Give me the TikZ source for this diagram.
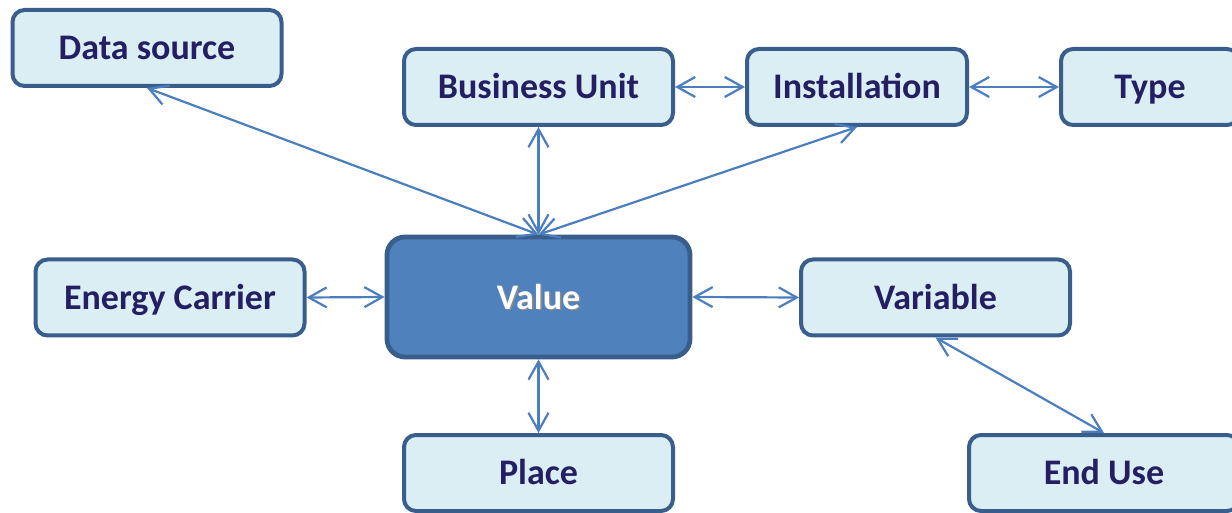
\documentclass[tikz,border=0pt]{standalone}
\usepackage{fontspec}
\setmainfont{Carlito}
\usepackage{xcolor}
\usetikzlibrary{arrows.meta}
\definecolor{boxfill}{HTML}{DBEEF4}
\definecolor{boxline}{HTML}{3A5E8C}
\definecolor{valfill}{HTML}{4F81BD}
\definecolor{arrowcol}{HTML}{4A7EBF}
\definecolor{labelcol}{HTML}{241F62}

\begin{document}
\begin{tikzpicture}[x=0.5pt, y=-0.5pt,
    entity/.style={draw=boxline, line width=2pt, fill=boxfill, rounded corners=6pt,
        minimum width=134.5pt, minimum height=38pt, inner sep=0pt,
        text height=14.6pt, text depth=3pt,
        text=labelcol, font=\fontsize{18}{20}\selectfont\bfseries},
    link/.style={draw=arrowcol, line width=1.1pt,
        {Straight Barb[length=9pt,width=10pt]}-{Straight Barb[length=9pt,width=10pt]}}]
    \useasboundingbox (0,0) rectangle (1232,513);
    \clip (0,0) rectangle (1232,513);

    % Centre box
    \node[entity, fill=valfill, line width=2.4pt, minimum width=151.5pt, minimum height=60pt, rounded corners=9pt] (val) at (538.5,297) {};
    \node[text=black!45, font=\fontsize{18}{20}\selectfont\bfseries] (valshadow) at (540,298.5) {Value};
    \node[text=white, font=\fontsize{18}{20}\selectfont\bfseries] (valtext) at (538.5,297) {Value};

    % Top row
    \node[entity] (ds) at (147,48) {Data source};
    \node[entity] (bu) at (538.5,87) {Business Unit};
    \node[entity, minimum width=110pt] (inst) at (857,87) {Installation};
    \node[entity, minimum width=89pt] (type) at (1150,87) {Type};

    % Middle row
    \node[entity] (ec) at (170,297.5) {Energy Carrier};
    \node[entity] (var) at (935.5,297.5) {Variable};

    % Bottom row
    \node[entity] (place) at (538.5,473) {Place};
    \node[entity, minimum width=135pt] (eu) at (1104,473) {End Use};

    % Arrows
    \draw[link] (ds.south) -- (val.north);
    \draw[link] (bu.south) -- (val.north);
    \draw[link] (inst.south) -- (val.north);
    \draw[link] (bu.east) -- (inst.west);
    \draw[link] (inst.east) -- (type.west);
    \draw[link] (ec.east) -- (val.west);
    \draw[link] (val.east) -- (var.west);
    \draw[link] (val.south) -- (place.north);
    \draw[link] (var.south) -- (eu.north);
\end{tikzpicture}
\end{document}
